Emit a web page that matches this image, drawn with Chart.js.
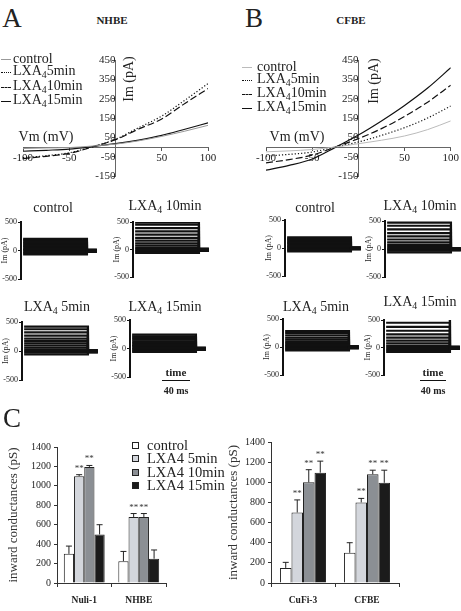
<!DOCTYPE html>
<html>
<head>
<meta charset="utf-8">
<script src="https://cdn.jsdelivr.net/npm/chart.js@4"></script>
<style>
body { margin: 0; background: #fff; }
#fig { position: relative; width: 461px; height: 611px; overflow: hidden; font-family: 'Liberation Serif', 'Times New Roman', serif; color: #222; }
#fig canvas { position: absolute; }
.t { position: absolute; white-space: nowrap; transform: translate(-50%, -50%); line-height: 1; }
.l { position: absolute; white-space: nowrap; line-height: 1; transform: translateY(-50%); }
sub { font-size: 0.7em; vertical-align: -0.25em; }
</style>
</head>
<body>
<div id="fig"></div>
<script>
// I-V curves (Vm in mV, Im in pA)
const vm = [-100, -75, -50, -25, 0, 25, 50, 75, 100];
const nhbeControl = [-8, -5, -3, 5, 15, 32, 55, 82, 112];
const nhbe5 = [-55, -45, -30, 2, 40, 100, 160, 242, 328];
const nhbe10 = [-60, -48, -33, 0, 38, 93, 145, 225, 302];
const nhbe15 = [-22, -17, -11, 2, 17, 36, 60, 92, 125];
const cfbeControl = [-25, -20, -13, 0, 17, 35, 57, 90, 135];
const cfbe5 = [-47, -38, -26, 0, 26, 60, 100, 150, 212];
const cfbe10 = [-82, -65, -42, 0, 43, 95, 158, 232, 320];
const cfbe15 = [-120, -95, -62, -2, 62, 135, 215, 305, 410];

// current traces: step amplitudes (pA), pulse on/off/end times (ms)
const stepTimes = [3, 93, 107];
const tailLevels = [-20, -10, 0, 10];
const stepsNhbeControl = [-70, -45, -20, 5, 30, 55, 80, 105, 130, 155, 180, 205];
const stepsNhbe10 = [-60, -30, 0, 30, 70, 110, 160, 210, 270, 330, 390, 450, 490];
const stepsNhbe5 = [-60, -30, 0, 30, 60, 95, 130, 170, 215, 265, 320, 375, 420];
const stepsNhbe15 = [-60, -35, -10, 15, 40, 65, 95, 125, 155, 185, 215, 245];
const stepsCfbeControl = [-60, -35, -10, 15, 40, 65, 90, 115, 140, 165, 190];
const stepsCfbe10 = [-60, -30, 0, 35, 75, 120, 170, 225, 285, 350, 415, 470];
const stepsCfbe5 = [-60, -35, -10, 15, 40, 70, 100, 135, 170, 210, 250, 285];
const stepsCfbe15 = [-80, -45, -10, 30, 75, 125, 180, 240, 305, 375, 450, 520, 560];

// inward conductances (pS): control, LXA4 5min, 10min, 15min
const treatments = ['control', 'LXA4 5min', 'LXA4 10min', 'LXA4 15min'];
const nuliVals = [300, 1100, 1195, 500];
const nuliErr = [80, 15, 15, 100];
const nuliSig = ['', '**', '**', ''];
const nhbeVals = [225, 680, 680, 250];
const nhbeErr = [100, 35, 35, 90];
const nhbeSig = ['', '**', '**', ''];
const cufiVals = [150, 700, 1000, 1095];
const cufiErr = [55, 125, 125, 115];
const cufiSig = ['', '**', '**', '**'];
const cfbeVals = [300, 800, 1080, 995];
const cfbeErr = [100, 40, 40, 125];
const cfbeSig = ['', '**', '**', '**'];

const serif = "'Liberation Serif', 'Times New Roman', serif";
Chart.defaults.font.family = serif;
Chart.defaults.color = '#222';
Chart.defaults.animation = false;

const fig = document.getElementById('fig');
function addCanvas(x, y, w, h) {
    const c = document.createElement('canvas');
    c.width = w; c.height = h;
    c.style.left = x + 'px'; c.style.top = y + 'px';
    c.style.width = w + 'px'; c.style.height = h + 'px';
    fig.appendChild(c);
    return c;
}
function label(x, y, html, css, cls) {
    const d = document.createElement('div');
    d.className = cls || 't';
    d.style.left = x + 'px'; d.style.top = y + 'px';
    if (css) d.style.cssText += css;
    d.innerHTML = html;
    fig.appendChild(d);
    return d;
}

// ---------- I-V panels ----------
function ivChart(x, y, w, h, pad, series, ctrlColor) {
    const styles = [
        {borderColor: ctrlColor, borderWidth: 1, borderDash: []},
        {borderColor: '#111', borderWidth: 1.2, borderDash: [1.2, 2]},
        {borderColor: '#111', borderWidth: 1.2, borderDash: [7, 3]},
        {borderColor: '#111', borderWidth: 1.2, borderDash: []}
    ];
    new Chart(addCanvas(x, y, w, h), {
        type: 'line',
        data: {
            labels: vm,
            datasets: series.map((s, i) => Object.assign({
                label: treatments[i],
                data: vm.map((v, k) => ({x: v, y: s[k]})),
                pointRadius: 0,
                cubicInterpolationMode: 'monotone'
            }, styles[i]))
        },
        options: {
            responsive: false, devicePixelRatio: 1, events: [],
            layout: {padding: pad},
            plugins: {legend: {display: false}, tooltip: {enabled: false}},
            scales: {
                x: {
                    type: 'linear', min: -100, max: 100, position: {y: 0},
                    ticks: {stepSize: 50, font: {size: 11}, padding: 2, callback: v => v === 0 ? '' : v},
                    grid: {drawOnChartArea: false, tickLength: 3, color: '#555'},
                    border: {color: '#666'},
                    afterFit(s) { s.height = 0; }
                },
                y: {
                    min: -150, max: 450, position: {x: 0},
                    ticks: {stepSize: 100, font: {size: 11}, padding: 3, callback: v => v},
                    grid: {drawOnChartArea: false, tickLength: 3, color: '#555'},
                    border: {color: '#666'},
                    afterFit(s) { s.width = 0; }
                }
            }
        }
    });
}
ivChart(0, 40, 230, 160, {left: 23, right: 22, top: 20, bottom: 24}, [nhbeControl, nhbe5, nhbe10, nhbe15], '#999');
ivChart(230, 40, 231, 160, {left: 36, right: 1, top: 20, bottom: 24}, [cfbeControl, cfbe5, cfbe10, cfbe15], '#bbb');

// ---------- current traces ----------
function traceChart(p) {
    const c = addCanvas(p.ax - 22, p.y5 - 10, 104, p.yn - p.y5 + 20);
    new Chart(c, {
        type: 'line',
        data: {
            datasets: p.levels.map((lv, i) => {
                const tail = tailLevels[i % tailLevels.length];
                return {
                    data: [{x: stepTimes[0], y: lv}, {x: stepTimes[1], y: lv}, {x: stepTimes[1], y: tail}, {x: stepTimes[2], y: tail}],
                    borderColor: '#111', borderWidth: 2.2, pointRadius: 0, tension: 0
                };
            })
        },
        options: {
            responsive: false, devicePixelRatio: 1, events: [],
            layout: {padding: {left: 1, right: 4, top: 10, bottom: 10}},
            plugins: {legend: {display: false}, tooltip: {enabled: false}},
            scales: {
                x: {type: 'linear', display: false, min: 0, max: 110},
                y: {
                    min: -500, max: 500,
                    ticks: {stepSize: 500, font: {size: 8}, padding: 1, callback: v => v},
                    grid: {drawOnChartArea: false, tickLength: 3, color: '#111'},
                    border: {color: '#111', width: 2},
                    title: {display: true, text: 'Im (pA)', font: {size: 8}, padding: 0},
                    afterFit(s) { s.width = 21; }
                }
            }
        }
    });
}
const tracePanels = [
    {levels: stepsNhbeControl, ax: 21, y5: 222, yn: 279, title: 'control', tx: 53, ty: 208},
    {levels: stepsNhbe10, ax: 133, y5: 222, yn: 277, title: 'LXA<sub>4</sub> 10min', tx: 165, ty: 207},
    {levels: stepsNhbe5, ax: 22, y5: 322, yn: 380, title: 'LXA<sub>4</sub> 5min', tx: 57, ty: 308},
    {levels: stepsNhbe15, ax: 130, y5: 320, yn: 377, title: 'LXA<sub>4</sub> 15min', tx: 165, ty: 308},
    {levels: stepsCfbeControl, ax: 285, y5: 220, yn: 276, title: 'control', tx: 315, ty: 208},
    {levels: stepsCfbe10, ax: 385, y5: 221, yn: 277, title: 'LXA<sub>4</sub> 10min', tx: 420, ty: 207},
    {levels: stepsCfbe5, ax: 283, y5: 319, yn: 375, title: 'LXA<sub>4</sub> 5min', tx: 316, ty: 308},
    {levels: stepsCfbe15, ax: 384, y5: 320, yn: 375, title: 'LXA<sub>4</sub> 15min', tx: 420, ty: 303}
];
tracePanels.forEach(p => {
    traceChart(p);
    label(p.tx, p.ty, p.title, 'font-size:14px;');
});

// ---------- bar charts ----------
const barColors = ['#ffffff', '#d3d6dc', '#8b8f94', '#1b1b1b'];
const errorBars = {
    id: 'errorBars',
    afterDatasetsDraw(chart) {
        const ctx = chart.ctx, ys = chart.scales.y;
        chart.data.datasets.forEach((ds, i) => {
            chart.getDatasetMeta(i).data.forEach((bar, j) => {
                const top = ys.getPixelForValue(ds.data[j] + ds.err[j]);
                ctx.save();
                ctx.strokeStyle = '#222';
                ctx.lineWidth = 1;
                ctx.beginPath();
                ctx.moveTo(bar.x, bar.y);
                ctx.lineTo(bar.x, top);
                ctx.moveTo(bar.x - 3, top);
                ctx.lineTo(bar.x + 3, top);
                ctx.stroke();
                if (ds.sig[j]) {
                    ctx.fillStyle = '#333';
                    ctx.font = '9px ' + serif;
                    ctx.textAlign = 'center';
                    ctx.fillText(ds.sig[j], bar.x, top - 4);
                }
                ctx.restore();
            });
        });
    }
};
function barChart(x, y, w, h, pad, yW, cats, vals, errs, sigs, catPct) {
    new Chart(addCanvas(x, y, w, h), {
        type: 'bar',
        data: {
            labels: cats,
            datasets: treatments.map((t, i) => ({
                label: t,
                data: vals.map(v => v[i]),
                err: errs.map(e => e[i]),
                sig: sigs.map(s => s[i]),
                backgroundColor: barColors[i],
                borderColor: '#222',
                borderWidth: 1,
                categoryPercentage: catPct,
                barPercentage: 1
            }))
        },
        options: {
            responsive: false, devicePixelRatio: 1, events: [],
            layout: {padding: pad},
            plugins: {legend: {display: false}, tooltip: {enabled: false}},
            scales: {
                x: {
                    ticks: {font: {size: 9.5, weight: 'bold'}, padding: 8},
                    grid: {drawOnChartArea: false, tickLength: 4, color: '#333'},
                    border: {color: '#333'},
                    afterFit(s) { s.height = 28; }
                },
                y: {
                    min: 0, max: 1400,
                    ticks: {stepSize: 200, font: {size: 10}, padding: 3, callback: v => v},
                    grid: {drawOnChartArea: false, tickLength: 3, color: '#333'},
                    border: {color: '#333'},
                    title: {display: true, text: 'inward conductances (pS)', font: {size: 13}, color: '#333', padding: {top: 0, bottom: 2}},
                    afterFit(s) { s.width = yW; }
                }
            }
        },
        plugins: [errorBars]
    });
}
barChart(0, 430, 230, 181, {left: 6, right: 64, top: 17, bottom: 0}, 51,
    ['Nuli-1', 'NHBE'], [nuliVals, nhbeVals], [nuliErr, nhbeErr], [nuliSig, nhbeSig], 0.75);
barChart(226, 430, 235, 181, {left: 0, right: 62, top: 12, bottom: 0}, 45,
    ['CuFi-3', 'CFBE'], [cufiVals, cfbeVals], [cufiErr, cfbeErr], [cufiSig, cfbeSig], 0.72);

// ---------- text ----------
label(12, 18, 'A', 'font-size:27px;');
label(254, 18, 'B', 'font-size:27px;');
label(12, 418, 'C', 'font-size:27px;');
label(112, 20, 'NHBE', 'font-size:11px;font-weight:bold;');
label(351, 20, 'CFBE', 'font-size:11px;font-weight:bold;');

label(46, 137, 'Vm (mV)', 'font-size:14px;');
label(297, 137, 'Vm (mV)', 'font-size:14px;');
label(129, 79, 'Im (pA)', 'font-size:14px;transform:translate(-50%,-50%) rotate(-90deg);');
label(374, 81, 'Im (pA)', 'font-size:14px;transform:translate(-50%,-50%) rotate(-90deg);');

const ivLegendNames = ['control', 'LXA<sub>4</sub>5min', 'LXA<sub>4</sub>10min', 'LXA<sub>4</sub>15min'];
const ivLegendLines = ['1px solid #999', '1.5px dotted #111', '1.5px dashed #111', '1.5px solid #111'];
function ivLegend(sx, tx, ys, ctrl) {
    ys.forEach((yy, i) => {
        const line = i === 0 ? '1px solid ' + ctrl : ivLegendLines[i];
        const d = document.createElement('div');
        d.style.cssText = 'position:absolute;left:' + sx + 'px;top:' + yy + 'px;width:10px;border-top:' + line + ';';
        fig.appendChild(d);
        label(tx, yy, ivLegendNames[i], 'font-size:14px;', 'l');
    });
}
ivLegend(1, 13, [59, 72, 87, 101], '#999');
ivLegend(242, 257, [67, 80, 94, 108], '#bbb');

// scale bars
[[176, 162], [433, 420]].forEach(([cx, x0]) => {
    label(cx, 372, 'time', 'font-size:11px;font-weight:bold;');
    const d = document.createElement('div');
    d.style.cssText = 'position:absolute;left:' + x0 + 'px;top:380px;width:' + (2 * (cx - x0)) + 'px;border-top:1.5px solid #111;';
    fig.appendChild(d);
    label(cx, 391, '40 ms', 'font-size:10px;font-weight:bold;');
});

// bar legend
const barLegendNames = ['control', 'LXA4 5min', 'LXA4 10min', 'LXA4 15min'];
[445, 458, 472, 485].forEach((yy, i) => {
    const d = document.createElement('div');
    d.style.cssText = 'position:absolute;left:132px;top:' + (yy - 3) + 'px;width:5px;height:5px;border:1px solid #222;background:' + barColors[i] + ';';
    fig.appendChild(d);
    label(147, yy, barLegendNames[i], 'font-size:14.5px;', 'l');
});
</script>
</body>
</html>
